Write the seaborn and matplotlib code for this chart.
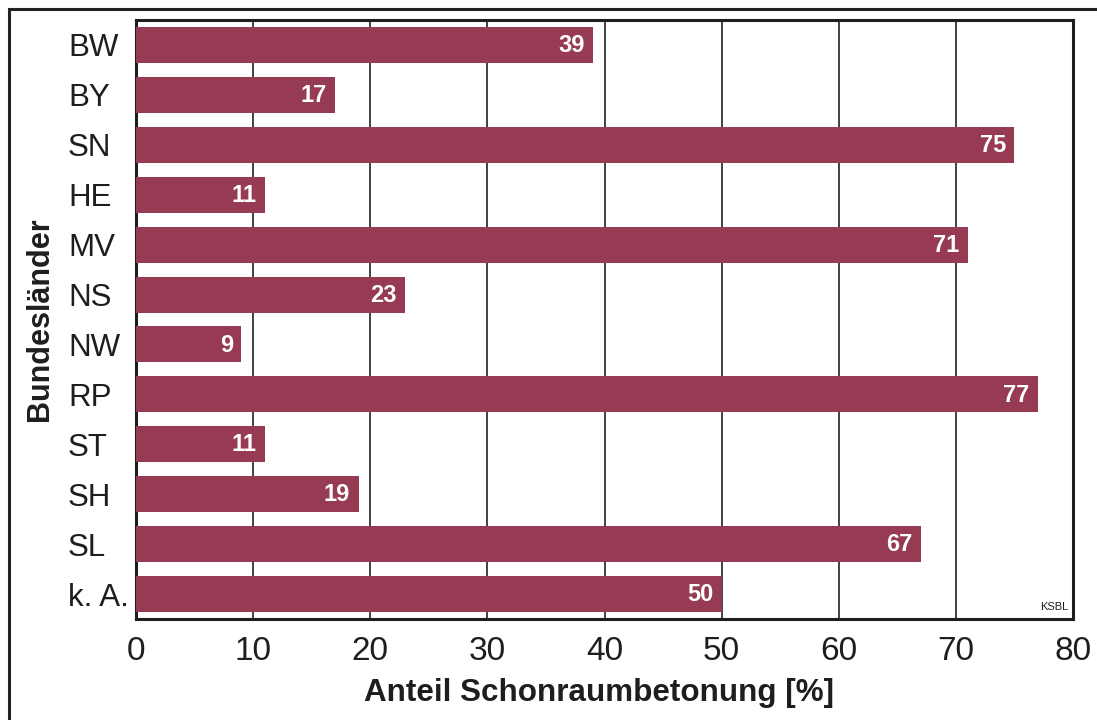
import matplotlib
matplotlib.use("Agg")
import matplotlib.pyplot as plt
import seaborn as sns
import pandas as pd
from matplotlib.patches import Rectangle

# Share of "Schonraumbetonung" per federal state
laender = ["BW", "BY", "SN", "HE", "MV", "NS", "NW", "RP", "ST", "SH", "SL", "k. A."]
anteil = [39, 17, 75, 11, 71, 23, 9, 77, 11, 19, 67, 50]
x_ticks = [0, 10, 20, 30, 40, 50, 60, 70, 80]

df = pd.DataFrame({"land": laender, "anteil": anteil})

sns.set_theme(style="white")
plt.rcParams["font.family"] = ["Liberation Sans", "DejaVu Sans"]

bar_color = "#973a53"
ink = "#1e1e1e"

fig = plt.figure(figsize=(10.97, 7.20), dpi=100)
ax = fig.add_axes([136 / 1097, 1 - 619 / 720, (1073 - 136) / 1097, (619 - 20) / 720])

sns.barplot(data=df, x="anteil", y="land", order=laender, color=bar_color,
            saturation=1, width=0.72, orient="h", ax=ax, zorder=3, linewidth=0)

ax.set_xlim(0, 80)
ax.set_ylim(len(laender) - 0.5, -0.5)
ax.set_xticks(x_ticks)
ax.set_xticklabels([str(t) for t in x_ticks], fontsize=24, color=ink)
ax.tick_params(axis="x", length=0, pad=12)

# category labels, left aligned in a column
ax.tick_params(axis="y", labelsize=22.5, labelcolor=ink, length=0, pad=49)
for lbl in ax.get_yticklabels():
    lbl.set_horizontalalignment("left")

# vertical grid lines
ax.grid(axis="x", color="#333333", linewidth=1.3, zorder=1)
ax.set_axisbelow(True)
for s in ax.spines.values():
    s.set_visible(True)
    s.set_color(ink)
    s.set_linewidth(2.2)

ax.set_xlabel("Anteil Schonraumbetonung [%]", fontsize=22.6, fontweight="bold",
              color=ink)
ax.xaxis.set_label_coords((599 - 136) / 937, -(693 - 619) / 599)
ax.xaxis.label.set_verticalalignment("center")
ax.set_ylabel("Bundesländer", fontsize=22, fontweight="bold", color=ink)
ax.yaxis.set_label_coords((40 - 136) / 937, 0.5)
ax.yaxis.label.set_verticalalignment("center")

# value labels inside the bar ends
for i, v in enumerate(anteil):
    ax.annotate(f"{v:.0f}", xy=(v, i), xytext=(-6, -0.5), textcoords="offset points",
                ha="right", va="center", color="white", fontsize=17,
                fontweight="bold", zorder=5)

ax.text(0.995, 0.012, "KSBL", transform=ax.transAxes, ha="right", va="bottom",
        fontsize=8, color=ink)

# outer frame around the figure
fig.patches.append(Rectangle((9 / 1097, -0.5), 2.0, 1.5 - 9 / 720,
                             transform=fig.transFigure, fill=False,
                             edgecolor="#222222", linewidth=2.2))

fig.savefig("out.png", dpi=100)
